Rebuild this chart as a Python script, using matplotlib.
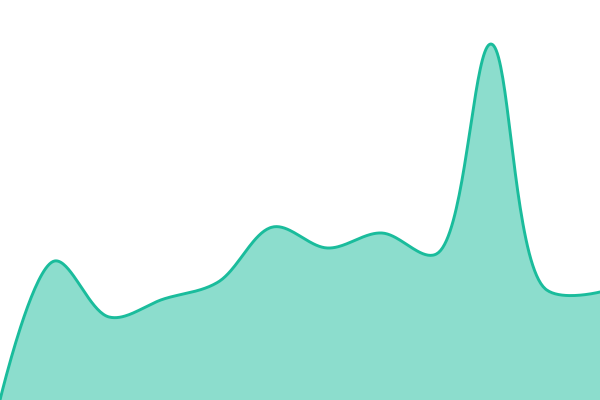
import matplotlib
matplotlib.use("Agg")
import matplotlib.pyplot as plt
import numpy as np

# sample index along the x axis and the series values
steps = list(range(12))
values = [0, 139, 83, 101, 118, 173, 152, 167, 146, 356, 111, 108]

LINE = "#1abc9c"


def catmull_rom_centripetal(pts, alpha=0.5, n=40):
    """Centripetal Catmull-Rom (same maths as d3.curveCatmullRom), as bezier segments."""
    pts = np.asarray(pts, float)
    t = np.linspace(0, 1, n, endpoint=False)[:, None]
    out = []
    for i in range(len(pts) - 1):
        p1, p2 = pts[i], pts[i + 1]
        p0 = pts[i - 1] if i > 0 else None
        p3 = pts[i + 2] if i + 2 < len(pts) else None
        l12_2a = np.sum((p2 - p1) ** 2) ** alpha
        l12_a = np.sqrt(l12_2a)
        c1, c2 = p1.copy(), p2.copy()
        if p0 is not None:
            l01_2a = np.sum((p1 - p0) ** 2) ** alpha
            l01_a = np.sqrt(l01_2a)
            a = 2 * l01_2a + 3 * l01_a * l12_a + l12_2a
            m = 3 * l01_a * (l01_a + l12_a)
            c1 = (p1 * a - p0 * l12_2a + p2 * l01_2a) / m
        if p3 is not None:
            l23_2a = np.sum((p3 - p2) ** 2) ** alpha
            l23_a = np.sqrt(l23_2a)
            b = 2 * l23_2a + 3 * l23_a * l12_a + l12_2a
            m = 3 * l23_a * (l23_a + l12_a)
            c2 = (p2 * b + p1 * l23_2a - p3 * l12_2a) / m
        seg = ((1 - t) ** 3 * p1 + 3 * (1 - t) ** 2 * t * c1
               + 3 * (1 - t) * t ** 2 * c2 + t ** 3 * p2)
        out.append(seg)
    out.append(pts[-1:])
    return np.vstack(out)


fig = plt.figure(figsize=(6, 4), dpi=100)
ax = fig.add_axes([0, 0, 1, 1])
ax.set_xlim(0, 11)
ax.set_ylim(0, 400)
ax.axis("off")

# smooth in screen space so the curve looks like the original
disp = ax.transData.transform(np.column_stack([steps, values]))
curve = ax.transData.inverted().transform(catmull_rom_centripetal(disp))
sx, sy = curve[:, 0], curve[:, 1]

ax.fill_between(sx, sy, 0, color=LINE, alpha=0.5, linewidth=0)
ax.plot(sx, sy, color=LINE, linewidth=2.1, solid_capstyle="round")
fig.savefig("out.png", dpi=100)
